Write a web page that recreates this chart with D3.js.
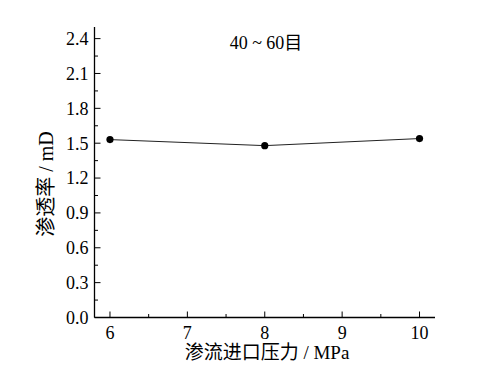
<!DOCTYPE html>
<html><head><meta charset="utf-8">
<script src="https://cdn.jsdelivr.net/npm/d3@7"></script>
<style>body{margin:0;background:#fff}svg{display:block}</style>
</head><body><svg id="c" width="498" height="366"></svg>
<script>
const pressure = [6, 8, 10];
const permeability = [1.531, 1.479, 1.540];
const xTicks = [6, 7, 8, 9, 10];
const yTicks = [0.0, 0.3, 0.6, 0.9, 1.2, 1.5, 1.8, 2.1, 2.4];
const title = "40 ~ 60目";
const xLabel = "渗流进口压力 / MPa";
const yLabel = "渗透率 / mD";

const FONT = "'Liberation Serif', 'Times New Roman', 'Noto Sans CJK SC', serif";
const svg = d3.select("#c");
const L = 94.5, R = 435, T = 27, B = 317.5;
const x = d3.scaleLinear().domain([5.8, 10.2]).range([L, R]);
const y = d3.scaleLinear().domain([0, 2.5]).range([B, T]);

const fs = 18;
function txt(){ return svg.append("text").style("font-family", FONT).attr("fill", "#000"); }
svg.append("line").attr("x1", L).attr("x2", L).attr("y1", T).attr("y2", B).attr("stroke", "#000").attr("stroke-width", 1.3);
svg.append("line").attr("x1", L).attr("x2", R).attr("y1", B).attr("y2", B).attr("stroke", "#000").attr("stroke-width", 1.3);

yTicks.forEach(v => {
  svg.append("line").attr("x1", L).attr("x2", L + 6).attr("y1", y(v)).attr("y2", y(v)).attr("stroke", "#000");
  txt().attr("x", L - 6).attr("y", y(v)).attr("dy", "0.35em").attr("text-anchor", "end").attr("font-size", fs).text(v.toFixed(1));
  const m = v + 0.15;
  if (m <= 2.5) svg.append("line").attr("x1", L).attr("x2", L + 3.5).attr("y1", y(m)).attr("y2", y(m)).attr("stroke", "#000");
});
xTicks.forEach(v => {
  svg.append("line").attr("x1", x(v)).attr("x2", x(v)).attr("y1", B).attr("y2", B - 6).attr("stroke", "#000");
  txt().attr("x", x(v)).attr("y", B + 21).attr("text-anchor", "middle").attr("font-size", fs).text(v);
  const m = v + 0.5;
  if (m <= 10.2) svg.append("line").attr("x1", x(m)).attr("x2", x(m)).attr("y1", B).attr("y2", B - 3.5).attr("stroke", "#000");
});

const data = pressure.map((p, i) => [p, permeability[i]]);
svg.append("path").datum(data).attr("fill", "none").attr("stroke", "#222").attr("stroke-width", 1)
  .attr("d", d3.line().x(d => x(d[0])).y(d => y(d[1])));
svg.selectAll("circle.pt").data(data).enter().append("circle")
  .attr("cx", d => x(d[0])).attr("cy", d => y(d[1])).attr("r", 3.6).attr("fill", "#000");

txt().attr("x", 266).attr("y", 49).attr("text-anchor", "middle").attr("font-size", 18).text(title);
txt().attr("x", 267).attr("y", 359).attr("text-anchor", "middle").attr("font-size", 19).text(xLabel);
txt().attr("transform", "translate(53,184) rotate(-90)").attr("text-anchor", "middle").attr("font-size", 20).text(yLabel);
</script></body></html>
